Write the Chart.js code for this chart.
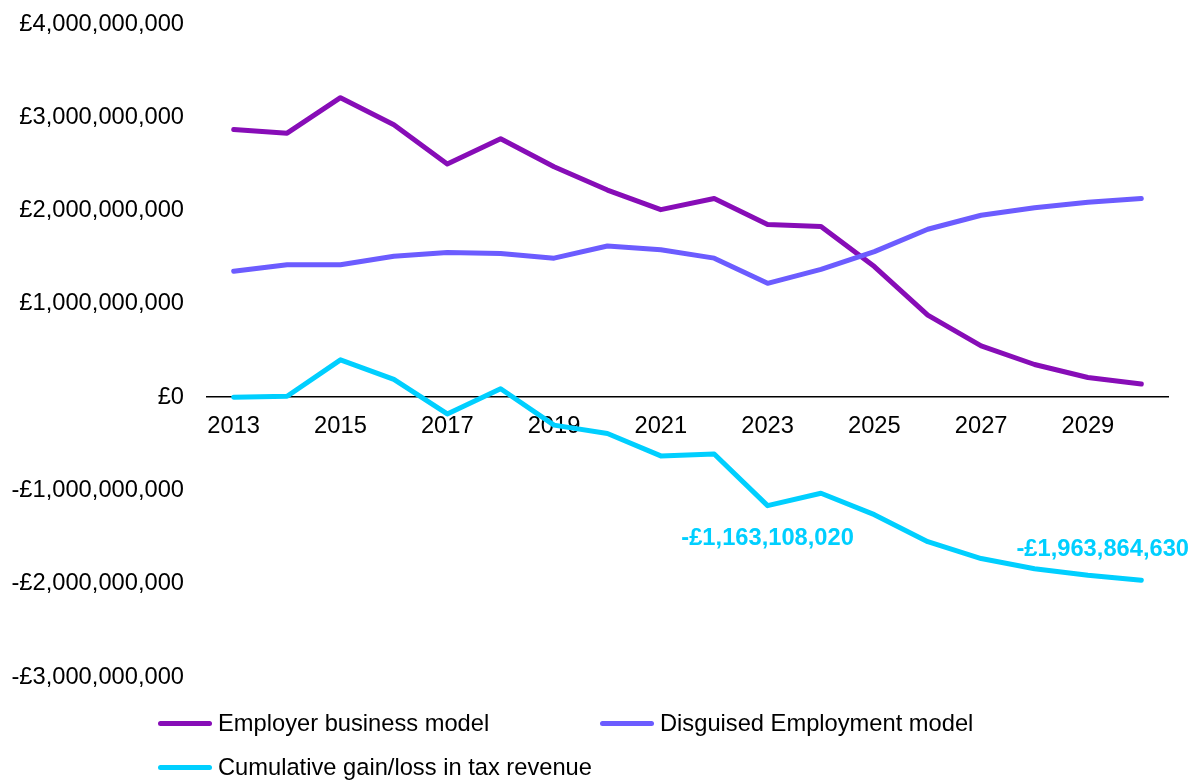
<!DOCTYPE html>
<html>
<head>
<meta charset="utf-8">
<title>Tax revenue by business model</title>
<script src="https://cdn.jsdelivr.net/npm/chart.js@4/dist/chart.umd.min.js"></script>
<style>
  html, body { margin: 0; padding: 0; background: #ffffff; }
  #wrap { position: relative; width: 1197px; height: 780px; }
  #chart { position: absolute; left: 0; top: 0; }
  #legend {
    position: absolute; left: 158px; top: 701px;
    display: grid; grid-template-columns: 442px 442px; grid-auto-rows: 44px;
    font-family: "Liberation Sans", Arial, sans-serif; font-size: 23.7px; color: #000;
  }
  .item { display: flex; align-items: center; white-space: nowrap; }
  .swatch { width: 54px; height: 5px; border-radius: 3px; margin-right: 6px; }
</style>
</head>
<body>
<div id="wrap">
  <canvas id="chart" width="1197" height="780"></canvas>
  <div id="legend"></div>
</div>
<script>
// Years on the category axis
const years = ['2013','2014','2015','2016','2017','2018','2019','2020','2021',
               '2022','2023','2024','2025','2026','2027','2028','2029','2030'];

// Annual tax take under each model (GBP)
const employerModel = [2870000000, 2830000000, 3210000000, 2920000000, 2500000000, 2770000000,
                       2470000000, 2220000000, 2010000000, 2130000000, 1850000000, 1830000000,
                       1400000000, 880000000, 550000000, 350000000, 210000000, 140000000];
const disguisedModel = [1350000000, 1420000000, 1420000000, 1510000000, 1550000000, 1540000000,
                        1490000000, 1620000000, 1580000000, 1490000000, 1220000000, 1370000000,
                        1560000000, 1800000000, 1950000000, 2030000000, 2090000000, 2130000000];
const cumulativeGainLoss = [0, 10000000, 400000000, 190000000, -180000000, 90000000,
                            -300000000, -390000000, -630000000, -610000000, -1163108020, -1030000000,
                            -1260000000, -1550000000, -1730000000, -1840000000, -1910000000, -1963864630];

// Value axis
const yMin = -3000000000;
const yMax = 4000000000;
const yStep = 1000000000;

// Series names
const seriesNames = ['Employer business model', 'Disguised Employment model',
                     'Cumulative gain/loss in tax revenue'];

// Points on the cumulative series that carry a value label
const labelledYears = ['2023', '2030'];

const colors = ['#870db7', '#6c5cff', '#00cfff'];
const FONT = '"Liberation Sans", Arial, sans-serif';

function pounds(v) {
  const s = Math.abs(Math.round(v)).toString().replace(/\B(?=(\d{3})+(?!\d))/g, ',');
  return (v < 0 ? '-£' : '£') + s;
}

// Value labels on the cumulative line: first below its point, last above (kept inside the canvas)
const valueLabels = {
  id: 'valueLabels',
  afterDatasetsDraw(chart) {
    const ctx = chart.ctx;
    const meta = chart.getDatasetMeta(2);
    const data = chart.data.datasets[2].data;
    ctx.save();
    ctx.font = 'bold 23.7px ' + FONT;
    ctx.fillStyle = colors[2];
    ctx.textBaseline = 'middle';
    labelledYears.forEach((yr, n) => {
      const i = years.indexOf(yr);
      const pt = meta.data[i];
      const text = pounds(data[i]);
      const w = ctx.measureText(text).width;
      let cx = pt.x;
      const right = chart.width - 8;
      if (cx + w / 2 > right) cx = right - w / 2;
      const y = n === 0 ? pt.y + 33 : pt.y - 31;
      ctx.textAlign = 'center';
      ctx.fillText(text, cx, y);
    });
    ctx.restore();
  }
};

const datasets = [employerModel, disguisedModel, cumulativeGainLoss].map((d, k) => ({
  label: seriesNames[k],
  data: d,
  borderColor: colors[k],
  backgroundColor: colors[k],
  borderWidth: 5,
  borderCapStyle: 'round',
  borderJoinStyle: 'round',
  pointRadius: 0,
  pointHoverRadius: 0,
  tension: 0,
  fill: false,
  order: 2 - k
}));

const chart = new Chart(document.getElementById('chart'), {
  type: 'line',
  data: { labels: years, datasets },
  options: {
    responsive: false,
    devicePixelRatio: 1,
    animation: false,
    layout: { padding: { left: 0, right: 29, top: 24, bottom: 103 } },
    plugins: { legend: { display: false }, tooltip: { enabled: false } },
    scales: {
      x: {
        type: 'category',
        position: { y: 0 },
        offset: true,
        grid: { display: false, drawTicks: false },
        border: { display: true, color: '#000000', width: 1.6 },
        ticks: {
          autoSkip: false, maxRotation: 0, padding: 15,
          color: '#000000', font: { family: FONT, size: 23.7 },
          callback: (v, i) => (i % 2 === 0 ? years[i] : '')
        },
        afterFit: s => { s.height = 0; s.paddingTop = 0; s.paddingBottom = 0; }
      },
      y: {
        min: yMin, max: yMax,
        grid: { display: false, drawTicks: false },
        border: { display: false },
        ticks: {
          stepSize: yStep, padding: 23,
          color: '#000000', font: { family: FONT, size: 23.7 },
          callback: v => pounds(v)
        },
        afterFit: s => { s.width = 207; s.paddingTop = 0; s.paddingBottom = 0; }
      }
    }
  },
  plugins: [valueLabels]
});

// Legend built from the chart's datasets
const legend = document.getElementById('legend');
chart.data.datasets.forEach(ds => {
  const item = document.createElement('div');
  item.className = 'item';
  const sw = document.createElement('span');
  sw.className = 'swatch';
  sw.style.background = ds.borderColor;
  const txt = document.createElement('span');
  txt.textContent = ds.label;
  item.appendChild(sw);
  item.appendChild(txt);
  legend.appendChild(item);
});
</script>
</body>
</html>
